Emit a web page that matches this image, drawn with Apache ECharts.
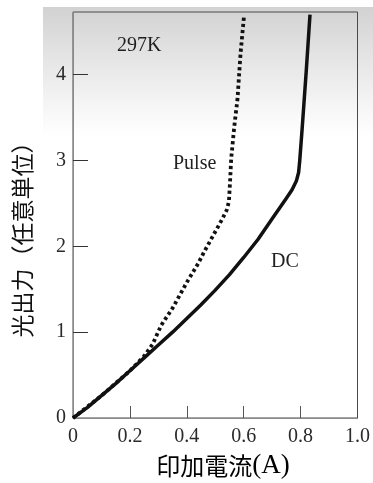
<!DOCTYPE html>
<html>
<head>
<meta charset="utf-8">
<script src="https://cdn.jsdelivr.net/npm/echarts@6/dist/echarts.min.js"></script>
<style>
  html, body { margin: 0; padding: 0; background: #fff; }
  #chart { width: 373px; height: 483px; }
</style>
</head>
<body>
<div id="chart"></div>
<script>
// Applied current (A) vs light output (arbitrary units)
const dcCurrent = [0, 0.05, 0.1, 0.15, 0.2, 0.25, 0.3, 0.35, 0.4, 0.45, 0.5, 0.55, 0.6, 0.65, 0.7, 0.75, 0.77, 0.785, 0.793, 0.797, 0.805, 0.82, 0.833];
const dcOutput  = [0, 0.12, 0.26, 0.40, 0.55, 0.70, 0.85, 1.00, 1.16, 1.32, 1.49, 1.67, 1.87, 2.08, 2.32, 2.56, 2.66, 2.76, 2.86, 3.00, 3.35, 4.05, 4.70];

const pulseCurrent = [0, 0.1, 0.2, 0.25, 0.28, 0.31, 0.35, 0.40, 0.44, 0.46, 0.50, 0.525, 0.54, 0.548, 0.552, 0.556, 0.567, 0.578, 0.589, 0.601];
const pulseOutput  = [0, 0.26, 0.55, 0.72, 0.86, 1.08, 1.28, 1.58, 1.80, 1.93, 2.17, 2.32, 2.42, 2.52, 2.75, 3.02, 3.40, 3.71, 4.25, 4.68];

const xTickValues = [0, 0.2, 0.4, 0.6, 0.8, 1.0];
const xTickLabels = ['0', '0.2', '0.4', '0.6', '0.8', '1.0'];
const yTickValues = [0, 1, 2, 3, 4];
const yTickLabels = ['0', '1', '2', '3', '4'];

const serif = '"Liberation Serif", "DejaVu Serif", serif';
const cjk = '"Noto Sans CJK JP", "Noto Sans", sans-serif';

const zip = (xs, ys) => xs.map((x, i) => [x, ys[i]]);

const chart = echarts.init(document.getElementById('chart'), null, { renderer: 'canvas' });

chart.setOption({
  animation: false,
  backgroundColor: '#ffffff',
  grid: {
    left: 73, right: 11, top: 12, bottom: 65,
    show: true, borderColor: '#4a4a4a', borderWidth: 1, backgroundColor: 'transparent'
  },
  graphic: [
    {
      type: 'rect', z: -10, silent: true,
      shape: { x: 43, y: 7, width: 330, height: 130 },
      style: {
        fill: new echarts.graphic.LinearGradient(0, 0, 0, 1, [
          { offset: 0, color: '#d2d2d2' },
          { offset: 0.4, color: '#e5e5e5' },
          { offset: 0.75, color: '#f5f5f5' },
          { offset: 1, color: '#ffffff' }
        ])
      }
    },
    { type: 'text', left: 117, top: 36, z: 10,
      style: { text: '297K', font: '20px ' + serif, fill: '#1e1e1e' } },
    { type: 'text', left: 173, top: 154, z: 10,
      style: { text: 'Pulse', font: '20px ' + serif, fill: '#222' } },
    { type: 'text', left: 271, top: 252, z: 10,
      style: { text: 'DC', font: '20px ' + serif, fill: '#222' } },
    {
      type: 'text', z: 10, x: 223, y: 466,
      style: {
        text: '{a|印加電流}{b|(A)}',
        align: 'center', verticalAlign: 'middle',
        rich: {
          a: { fontFamily: cjk, fontSize: 24, color: '#111' },
          b: { fontFamily: serif, fontSize: 27, color: '#111' }
        }
      }
    },
    {
      type: 'text', z: 10, x: 22, y: 234, rotation: Math.PI / 2,
      style: {
        text: '光出力（任意単位）',
        align: 'center', verticalAlign: 'middle',
        font: '23px ' + cjk, fill: '#111'
      }
    }
  ],
  xAxis: {
    type: 'value', min: 0, max: 1.0, interval: 0.2,
    axisLine: { show: true, lineStyle: { color: '#8a8a8a', width: 1 } },
    axisTick: { show: true, inside: true, length: 12, customValues: xTickValues.slice(1, 5),
      lineStyle: { color: '#555', width: 1 } },
    axisLabel: {
      customValues: xTickValues, margin: 9,
      formatter: v => xTickLabels[xTickValues.findIndex(t => Math.abs(t - v) < 1e-9)],
      fontFamily: serif, fontSize: 20, color: '#2a2a2a'
    },
    splitLine: { show: false }
  },
  yAxis: {
    type: 'value', min: 0, max: 4.73, interval: 1,
    axisLine: { show: true, lineStyle: { color: '#8a8a8a', width: 1 } },
    axisTick: { show: true, inside: true, length: 15, customValues: yTickValues.slice(1),
      lineStyle: { color: '#333', width: 1 } },
    axisLabel: {
      customValues: yTickValues, margin: 7,
      formatter: v => yTickLabels[yTickValues.indexOf(Math.round(v))],
      fontFamily: serif, fontSize: 20, color: '#2a2a2a'
    },
    splitLine: { show: false }
  },
  series: [
    {
      name: 'Pulse', type: 'line', data: zip(pulseCurrent, pulseOutput),
      showSymbol: false, smooth: false, z: 3,
      lineStyle: { color: '#111', width: 3.8, type: [3.2, 3], cap: 'butt' }
    },
    {
      name: 'DC', type: 'line', data: zip(dcCurrent, dcOutput),
      showSymbol: false, smooth: false, z: 4,
      lineStyle: { color: '#111', width: 3.5, type: 'solid', join: 'round' }
    }
  ]
});
</script>
</body>
</html>
